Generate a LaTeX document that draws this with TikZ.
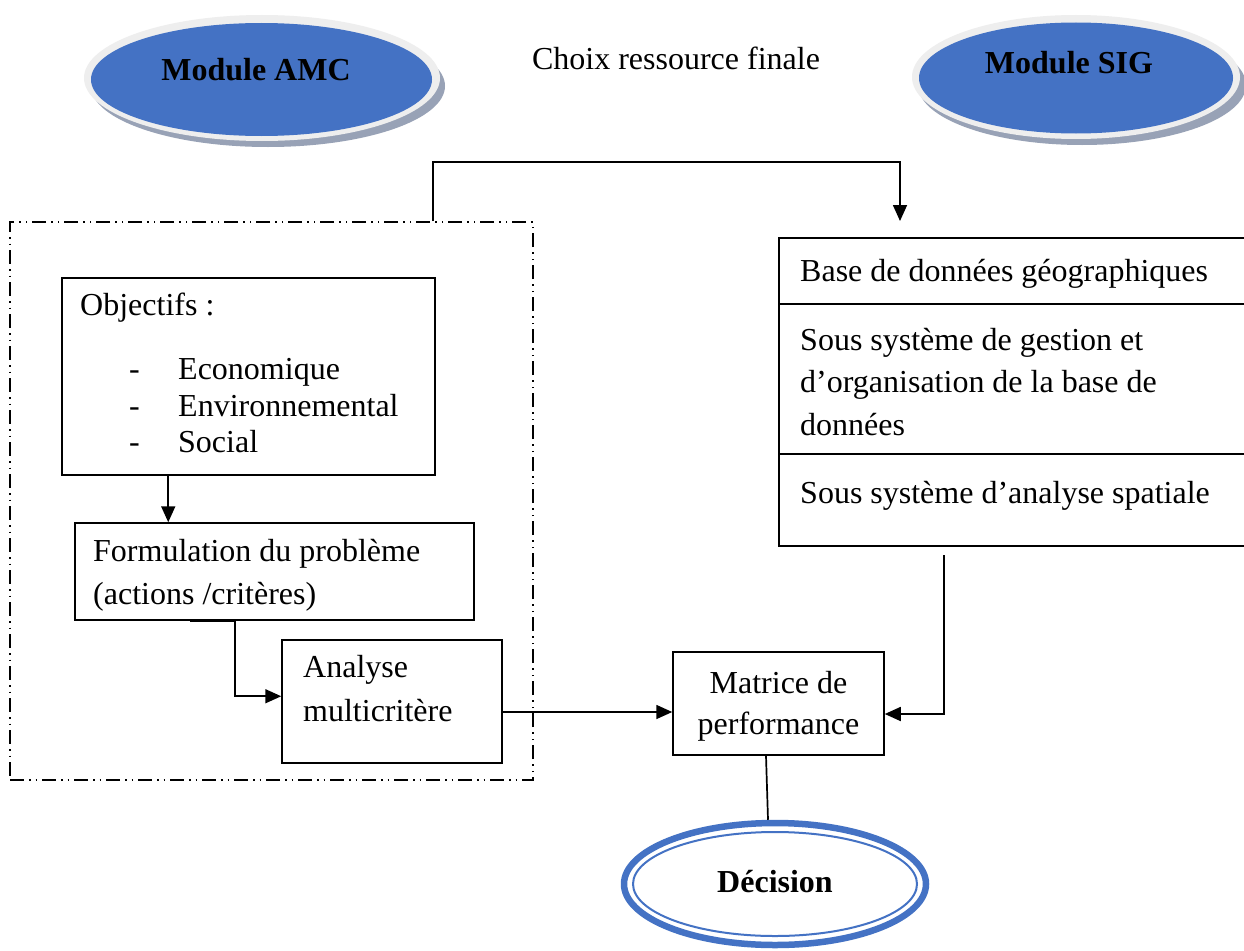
\documentclass[tikz,border=0pt]{standalone}
\usepackage{fontspec}
\setmainfont{Liberation Serif}
\usetikzlibrary{arrows.meta,shapes.geometric,calc}
\definecolor{modblue}{HTML}{4472C4}
\definecolor{rimgray}{HTML}{EEEEEE}
\definecolor{shadowgray}{HTML}{98A2B6}
\newcommand{\bigfont}{\fontsize{32}{42.5}\selectfont}
\begin{document}
\begin{tikzpicture}[x=1pt,y=-1pt,
  box/.style={draw, line width=1.5pt, rectangle, inner sep=0pt},
  txt/.style={font=\bigfont, inner sep=0pt, anchor=base west},
  ctxt/.style={font=\bigfont, inner sep=0pt, anchor=base},
  btxt/.style={font=\bigfont\bfseries, inner sep=0pt, anchor=base},
  conn/.style={line width=1.7pt},
  arr/.style={conn, -{Triangle[length=16pt,width=14pt]}},
  modell/.style={ellipse, fill=modblue, inner sep=0pt},
  dashdot/.style={draw, line width=1.6pt, dash pattern=on 14pt off 5pt on 1.5pt off 5pt on 1.5pt off 5pt}]
\useasboundingbox (0,0) rectangle (1244,950);
\clip (0,0) rectangle (1244,950);
\fill[white] (0,0) rectangle (1244,950);

% Module AMC
\fill[shadowgray] (268,86) ellipse [x radius=177, y radius=61];
\fill[rimgray] (262,78) ellipse [x radius=178, y radius=63];
\node[modell, minimum width=341, minimum height=113] (amc) at (261.5,79.5) {};
\node[btxt] (amct) at (256,81) {Module AMC};

% Module SIG
\fill[shadowgray] (1082,85) ellipse [x radius=164, y radius=60];
\fill[rimgray] (1076,77) ellipse [x radius=164, y radius=62];
\node[modell, minimum width=314, minimum height=111] (sig) at (1076,78) {};
\node[btxt] (sigt) at (1069,74) {Module SIG};

% Title
\node[ctxt] (choix) at (676,70) {Choix ressource finale};

% Dash-dot frame
\node[dashdot, rectangle, inner sep=0pt, minimum width=523, minimum height=558] (dashbox) at (271.5,501) {};

% Objectifs
\node[box, minimum width=373, minimum height=197] (objbox) at (248.5,376.5) {};
\node[txt] (objt) at (80,315) {Objectifs :};
\node[txt] (d1) at (129,379) {-};
\node[txt] (i1) at (178,379) {Economique};
\node[txt] (d2) at (129,416) {-};
\node[txt] (i2) at (178,416) {Environnemental};
\node[txt] (d3) at (129,452) {-};
\node[txt] (i3) at (178,452) {Social};

% Formulation
\node[box, minimum width=399, minimum height=97] (formbox) at (274.5,571.5) {};
\node[txt] (f1) at (93,561) {Formulation du problème};
\node[txt] (f2) at (93,604) {(actions /critères)};

% Analyse
\node[box, minimum width=220, minimum height=123] (anabox) at (392,701.5) {};
\node[txt] (a1) at (303,677) {Analyse};
\node[txt] (a2) at (303,721) {multicritère};

% Matrice
\node[box, minimum width=211, minimum height=103] (matbox) at (778.5,703.5) {};
\node[ctxt] (m1) at (778.5,693) {Matrice de};
\node[ctxt] (m2) at (778.5,734) {performance};

% SIG box
\node[box, minimum width=481, minimum height=308] (sigbox) at (1019.5,392) {};
\draw[line width=1.5pt] (sigbox.west |- 0,304) -- (sigbox.east |- 0,304);
\draw[line width=1.5pt] (sigbox.west |- 0,454) -- (sigbox.east |- 0,454);
\node[txt] (s1) at (800,281) {Base de données géographiques};
\node[txt] (s2) at (800,350) {Sous système de gestion et};
\node[txt] (s3) at (800,392) {d’organisation de la base de};
\node[txt] (s4) at (800,435) {données};
\node[txt] (s5) at (800,503) {Sous système d’analyse spatiale};

% Decision
\node[ellipse, draw=modblue, line width=6.5pt, minimum width=302, minimum height=122, inner sep=0pt] (dec) at (775,884) {};
\draw[modblue, line width=2pt] (dec.center) ellipse [x radius=142, y radius=52];
\node[btxt] (dect) at (775,892) {Décision};

% Connectors
\coordinate (topend) at (900,221);
\coordinate (sigend) at (944,555);
\draw[arr] ([xshift=424pt]dashbox.north west) -- ++(0,-59) -| (topend);
\draw[arr] ([xshift=107pt]objbox.south west) -- ([xshift=107pt]objbox.south west |- formbox.north);
\draw[arr] ([xshift=116pt]formbox.south west) -- ++(45,0) |- ([yshift=-57pt]anabox.north west);
\draw[arr] ([yshift=-10.5pt]anabox.east) -- ([yshift=-10.5pt]anabox.east -| matbox.west);
\draw[arr] (sigend) |- ([yshift=-10.5pt]matbox.east);
\draw[conn] ([xshift=-12.5pt]matbox.south) -- ([xshift=-7pt]dec.north);
\end{tikzpicture}
\end{document}
